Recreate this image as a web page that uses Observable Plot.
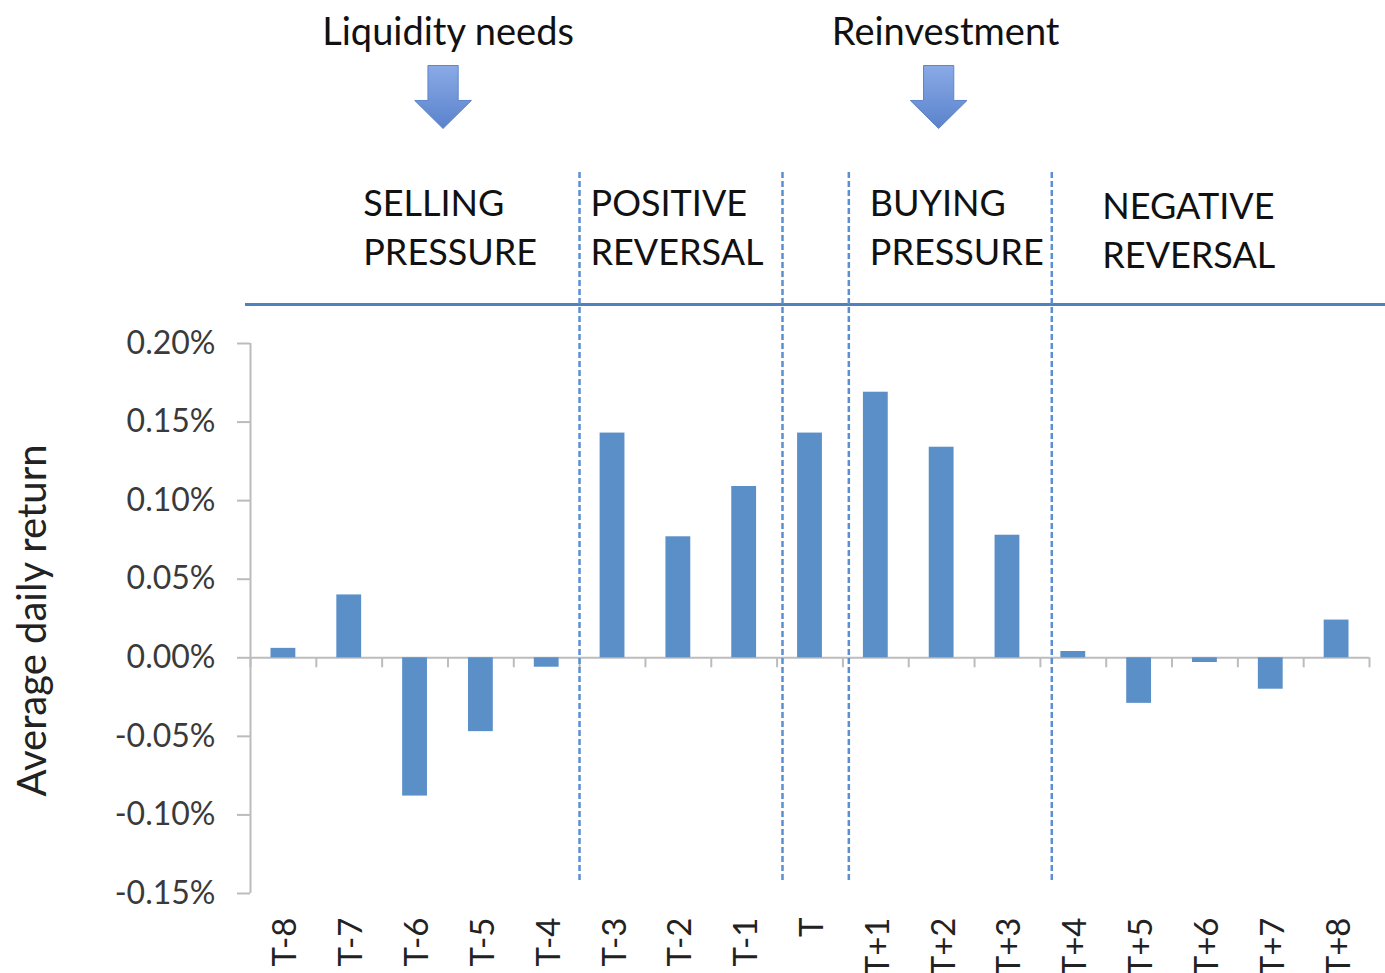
<!DOCTYPE html>
<html>
<head>
<meta charset="utf-8">
<script src="https://cdn.jsdelivr.net/npm/d3@7"></script>
<script src="https://cdn.jsdelivr.net/npm/@observablehq/plot@0.6"></script>
<style>
  html, body { margin: 0; padding: 0; background: #ffffff; }
  #chart svg { display: block; }
</style>
</head>
<body>
<div id="chart"></div>
<script>
// ---- data ----
const categories = ["T-8","T-7","T-6","T-5","T-4","T-3","T-2","T-1","T","T+1","T+2","T+3","T+4","T+5","T+6","T+7","T+8"];
const returns = [0.006, 0.040, -0.088, -0.047, -0.006, 0.143, 0.077, 0.109, 0.143, 0.169, 0.134, 0.078, 0.004, -0.029, -0.003, -0.020, 0.024];
const yTicks = [-0.15, -0.10, -0.05, 0.00, 0.05, 0.10, 0.15, 0.20];
const phaseLabels = ["SELLING\nPRESSURE", "POSITIVE\nREVERSAL", "BUYING\nPRESSURE", "NEGATIVE\nREVERSAL"];
const driverLabels = ["Liquidity needs", "Reinvestment"];
const yLabel = "Average daily return";

const data = categories.map((c, i) => ({period: c, ret: returns[i]}));

// ---- layout ----
const W = 1385, H = 973, mL = 250, mR = 16, mT = 343, mB = 80;
const step = (W - mL - mR) / categories.length;
const yDom = [-0.15, 0.20];
// convert a pixel row into a y value (for annotations placed outside the frame)
const yAt = py => yDom[0] + (H - mB - py) / (H - mB - mT) * (yDom[1] - yDom[0]);

const barColor = "#5b8fc8";
const axisColor = "#bcbcbc";
const dashColor = "#5b8fd2";

const blockArrow = {
  draw(ctx, size) {
    const u = Math.sqrt(size / Math.PI);
    const sw = 0.48 * u, hw = 0.9 * u, hy = 0.11 * u;
    ctx.moveTo(-sw, -u); ctx.lineTo(sw, -u); ctx.lineTo(sw, hy); ctx.lineTo(hw, hy);
    ctx.lineTo(0, u); ctx.lineTo(-hw, hy); ctx.lineTo(-sw, hy); ctx.closePath();
  }
};

const divider = (cat, dx) => Plot.ruleX([cat], {x: d => d, y1: yAt(880), y2: yAt(170), dx, stroke: dashColor, strokeWidth: 2.5, strokeDasharray: "6,3"});
const phase = (i, cat, dx, py) => Plot.text([phaseLabels[i]], {x: () => cat, y: yAt(py), text: d => d, dx, textAnchor: "start", lineAnchor: "middle", lineHeight: 1.38, fontSize: 36, fill: "#111"});

const chart = Plot.plot({
  width: W, height: H,
  marginLeft: mL, marginRight: mR, marginTop: mT, marginBottom: mB,
  style: {fontFamily: "Lato, 'Open Sans', sans-serif", background: "#ffffff", overflow: "visible"},
  x: {domain: categories, padding: 0, round: false, axis: null},
  y: {domain: yDom},
  marks: [
    // y axis
    Plot.axisY(yTicks, {label: null, tickSize: 13, tickPadding: 22, tickFormat: d => d.toFixed(2) + "%", stroke: axisColor, strokeWidth: 2, strokeOpacity: 1, fill: "#3a3a3a", fontSize: 32}),
    Plot.ruleX([categories[0]], {x: d => d, dx: -step / 2, stroke: axisColor, strokeWidth: 2}),
    // zero line with category ticks
    Plot.ruleY([0], {stroke: axisColor, strokeWidth: 2}),
    Plot.ruleX(categories, {x: d => d, y1: 0, y2: 0, insetBottom: -10, dx: -step / 2, stroke: axisColor, strokeWidth: 2}),
    Plot.ruleX([categories[categories.length - 1]], {x: d => d, y1: 0, y2: 0, insetBottom: -10, dx: step / 2, stroke: axisColor, strokeWidth: 2}),
    // bars
    Plot.barY(data, {x: "period", y: "ret", fill: barColor, insetLeft: 20.5, insetRight: 20.5}),
    // category labels
    Plot.text(categories, {x: d => d, text: d => d, frameAnchor: "bottom", dy: 24, dx: 13, rotate: -90, textAnchor: "end", fontSize: 33, fill: "#222"}),
    // y label
    Plot.text([yLabel], {frameAnchor: "left", y: yAt(620), text: d => d, dx: -217, rotate: -90, textAnchor: "middle", fontSize: 40, fill: "#222"}),
    // horizontal separator
    Plot.ruleY([yAt(304)], {stroke: "#4f81bd", strokeWidth: 3, insetLeft: -5, insetRight: -16}),
    // phase dividers
    divider("T-3", -33),
    divider("T", -27.5),
    divider("T+1", -27),
    divider("T+4", -21.5),
    // phase labels
    phase(0, "T-7", 14, 224),
    phase(1, "T-3", -22, 224),
    phase(2, "T+1", -6, 224),
    phase(3, "T+4", 29, 227),
    // drivers
    Plot.text([driverLabels[0]], {x: () => "T-6", y: yAt(32), text: d => d, dx: 33, fontSize: 38, fill: "#111"}),
    Plot.text([driverLabels[1]], {x: () => "T+2", y: yAt(32), text: d => d, dx: 4, fontSize: 38, fill: "#111"}),
    Plot.dot([driverLabels[0]], {x: () => "T-6", y: yAt(96.5), dx: 28, r: 31.5, symbol: blockArrow, fill: "#6a91d6", stroke: "#6085c8", strokeWidth: 1}),
    Plot.dot([driverLabels[1]], {x: () => "T+2", y: yAt(96.5), dx: -3, r: 31.5, symbol: blockArrow, fill: "#6a91d6", stroke: "#6085c8", strokeWidth: 1})
  ]
});

// gradient fill for the block arrows
const svg = d3.select(chart);
const defs = svg.insert("defs", ":first-child");
const grad = defs.append("linearGradient").attr("id", "arrowGrad").attr("x1", 0).attr("y1", 0).attr("x2", 0).attr("y2", 1);
grad.append("stop").attr("offset", "0%").attr("stop-color", "#8aaae6");
grad.append("stop").attr("offset", "100%").attr("stop-color", "#5a82cc");
svg.selectAll("g[aria-label='dot'], g[aria-label='dot'] path").attr("fill", "url(#arrowGrad)");

document.getElementById("chart").appendChild(chart);
</script>
</body>
</html>
